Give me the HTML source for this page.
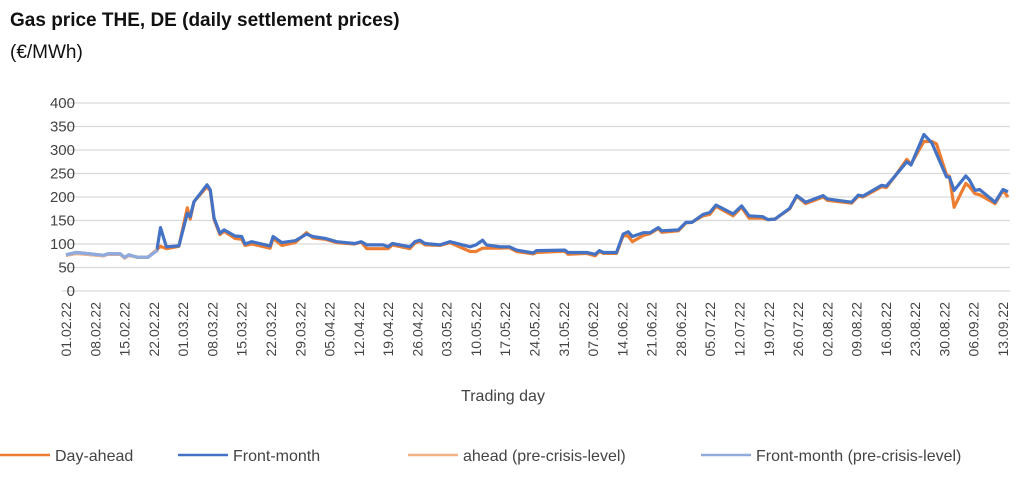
<!DOCTYPE html>
<html><head><meta charset="utf-8">
<style>
body{margin:0;background:#fff;font-family:"Liberation Sans",sans-serif;}
svg{display:block}
</style></head>
<body>
<svg id="chart" width="1024" height="479">
<text x="10" y="26" font-size="19" font-weight="bold" fill="#111">Gas price THE, DE (daily settlement prices)</text>
<text x="10" y="58" font-size="19" fill="#111">(€/MWh)</text>
<g id="grid"></g><g id="yticks"></g><g id="xticks"></g><g id="series"></g>
<text x="503" y="401" font-size="16" fill="#444" text-anchor="middle">Trading day</text>
<g id="legend" font-size="16" fill="#444">
<line x1="0" y1="455" x2="50" y2="455" stroke="#ED7D31" stroke-width="2.5"/>
<text x="55" y="461">Day-ahead</text>
<line x1="178" y1="455" x2="228" y2="455" stroke="#4472C4" stroke-width="2.5"/>
<text x="233" y="461">Front-month</text>
<line x1="408" y1="455" x2="458" y2="455" stroke="#F4B183" stroke-width="2.5"/>
<text x="463" y="461">ahead (pre-crisis-level)</text>
<line x1="701" y1="455" x2="751" y2="455" stroke="#8FAADC" stroke-width="2.5"/>
<text x="756" y="461">Front-month (pre-crisis-level)</text>
</g>
</svg>
<script>
const yTicks=[0,50,100,150,200,250,300,350,400];
const xLabels=["01.02.22","08.02.22","15.02.22","22.02.22","01.03.22","08.03.22","15.03.22","22.03.22","29.03.22","05.04.22","12.04.22","19.04.22","26.04.22","03.05.22","10.05.22","17.05.22","24.05.22","31.05.22","07.06.22","14.06.22","21.06.22","28.06.22","05.07.22","12.07.22","19.07.22","26.07.22","02.08.22","09.08.22","16.08.22","23.08.22","30.08.22","06.09.22","13.09.22"];
const days=[0,2.5,9,10,13,14,15,17,19.6,21.7,22.6,24,27,29,29.7,30.6,33.7,34.5,35.4,36.8,37.8,40.4,42,42.8,44.4,48.8,49.5,51.6,54.8,57.5,59,62,64.7,69,70.6,71.9,75.8,77,78,82.2,83.4,84.6,85.8,89.4,91.8,96.6,98,99.6,100.5,103.8,106,107.7,111.7,112.5,119.3,120,124.5,126.5,127.5,128.5,131.6,133.2,134.4,135.4,138,139.6,141.6,142.4,146.4,148.2,149.6,152.3,153.9,155.4,159.5,161.5,163.3,166.6,167.8,169.5,173,174.7,176.8,181,182,187.8,189.4,190.5,195,196.1,198.2,201,202,205.1,207,208.1,210.5,211.2,212.3,215.1,216,217.3,218.4,222.1,224,225.2];
const frontMonth=[77,82,76,79,79,71,77,72,72,86,135,94,96,165,158,190,226,215,155,123,130,117,116,100,105,96,116,103,107,121,116,112,105,101,105,98,98,94,101,94,105,108,101,98,105,94,98,108,98,94,94,87,81,86,87,82,82,78,86,82,82,121,126,116,124,124,135,128,130,146,146,163,167,183,164,181,160,158,152,153,176,203,189,203,196,189,204,202,225,223,245,275,268,333,315,292,243,242,214,245,236,214,216,189,216,211];
const dayAhead=[76,80,75,78,78,70,76,72,72,88,95,90,95,177,153,190,222,213,152,120,127,112,110,97,100,91,112,97,103,124,113,110,103,100,104,90,90,90,98,90,102,106,98,97,103,84,84,91,91,91,92,84,79,82,85,78,80,75,84,80,80,118,117,105,118,122,133,125,128,145,146,160,163,180,160,178,155,155,152,153,175,202,186,200,193,187,202,200,222,220,245,280,270,318,318,313,247,244,178,229,222,207,205,186,214,200];
const preDays=[0,2.5,9,10,13,14,15,17,19.6,21.7];
const preDA=[76,80,75,78,78,70,76,72,72,88];
const preFM=[77,82,76,79,79,71,77,72,72,86];
const NS="http://www.w3.org/2000/svg";
const x0=66,pxPerDay=(1003-66)/224,yBase=291,pxPerUnit=0.47;
const xs=d=>x0+d*pxPerDay, ys=v=>yBase-v*pxPerUnit;
function mk(tag,attrs,parent){const e=document.createElementNS(NS,tag);for(const k in attrs)e.setAttribute(k,attrs[k]);document.getElementById(parent).appendChild(e);return e;}
yTicks.forEach(t=>{
 const l=mk('line',{x1:62,x2:1010,y1:ys(t),y2:ys(t),stroke:'#d9d9d9','stroke-width':1.3},'grid');
 
 
 const tx=mk('text',{x:75,y:ys(t)+5,'text-anchor':'end','font-size':15,fill:'#444'},'yticks');
 tx.textContent=t;
 
 
});
xLabels.forEach((s,i)=>{
 const x=xs(i*7);
 const tx=mk('text',{x:0,y:0,'text-anchor':'end','font-size':14,fill:'#444',transform:`translate(${x+5},302) rotate(-90)`},'xticks');
 tx.textContent=s;
 
 
});
function line(dd,vals,color,w,name){
 const p=mk('polyline',{points:dd.map((d,i)=>xs(d).toFixed(1)+','+ys(vals[i]).toFixed(1)).join(' '),fill:'none',stroke:color,'stroke-width':w,'stroke-linejoin':'round'},'series');
 
 
}
line(days,dayAhead,'#ED7D31',3.2,'day-ahead-line');
line(days,frontMonth,'#4472C4',3.2,'front-month-line');
line(preDays,preDA,'#F4B183',3.2,'day-ahead-precrisis-line');
line(preDays,preFM,'#8FAADC',3.2,'front-month-precrisis-line');
</script>
</body></html>
